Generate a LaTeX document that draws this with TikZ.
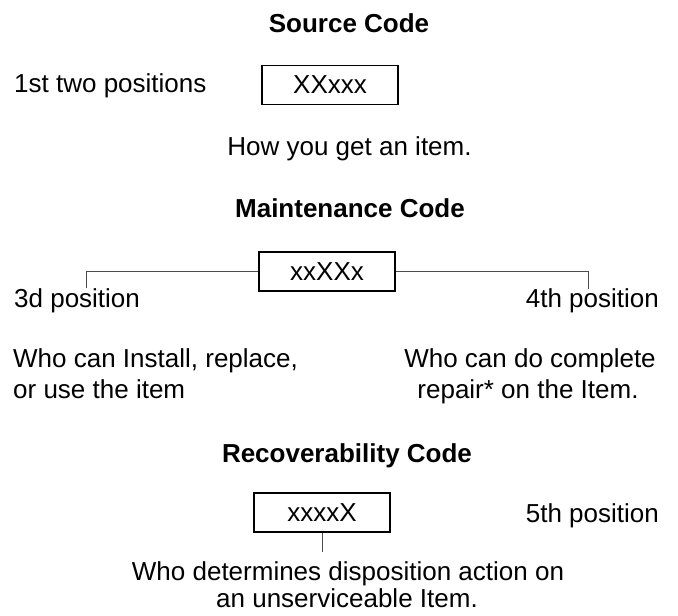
\documentclass[tikz,border=0pt]{standalone}
\usepackage{fontspec}
\setmainfont{Liberation Sans}
\tikzset{
  txt/.style={inner sep=0pt, font=\fontsize{26}{31}\selectfont},
  title/.style={txt, font=\fontsize{26}{31}\selectfont\bfseries, anchor=base},
  codebox/.style={draw, line width=1.8pt, inner sep=0pt, minimum width=136pt,
    minimum height=39pt, font=\fontsize{26}{31}\selectfont},
  leader/.style={draw=black!70, line width=1pt}
}
\begin{document}
\begin{tikzpicture}[x=1pt, y=-1pt]
  \useasboundingbox (0,0) rectangle (678,616);
  % source code
  \node[title] (srctitle) at (349,32) {Source Code};
  \node[txt, anchor=base west] (srcpos) at (14,92) {1st two positions};
  \node[codebox] (srcbox) at (330,85) {XXxxx\hspace{10pt}};
  \node[txt, anchor=base] (srcnote) at (349.5,155) {How you get an item.};
  % maintenance code
  \node[title] (mnttitle) at (350,217) {Maintenance Code};
  \node[codebox] (mntbox) at (327,271.5) {xxXXx};
  \coordinate (mntleft) at (86,271.5);
  \coordinate (mntlefttip) at (86,288);
  \coordinate (mntright) at (588,271.5);
  \coordinate (mntrighttip) at (588,289);
  \draw[leader] (mntbox.west) -- (mntleft) -- (mntlefttip);
  \draw[leader] (mntbox.east) -- (mntright) -- (mntrighttip);
  \node[txt, anchor=base west] (mntpos3) at (14,307) {3d position};
  \node[txt, anchor=base east] (mntpos4) at (659,307) {4th position};
  \node[txt, anchor=base west] (mntuse1) at (13,367) {Who can Install, replace,};
  \node[txt, anchor=base west] (mntuse2) at (13,398) {or use the item};
  \node[txt, anchor=base] (mntrep1) at (530,367) {Who can do complete};
  \node[txt, anchor=base] (mntrep2) at (528,398) {repair* on the Item.};
  % recoverability code
  \node[title] (rectitle) at (347,462) {Recoverability Code};
  \node[codebox] (recbox) at (322,512.5) {xxxxX};
  \node[txt, anchor=base east] (recpos) at (659,522) {5th position};
  \coordinate (recfoot) at (322,552);
  \draw[leader] (recbox.south) -- (recfoot);
  \node[txt, anchor=base] (recnote1) at (348,580) {Who determines disposition action on};
  \node[txt, anchor=base] (recnote2) at (347,607) {an unserviceable Item.};
\end{tikzpicture}
\end{document}
